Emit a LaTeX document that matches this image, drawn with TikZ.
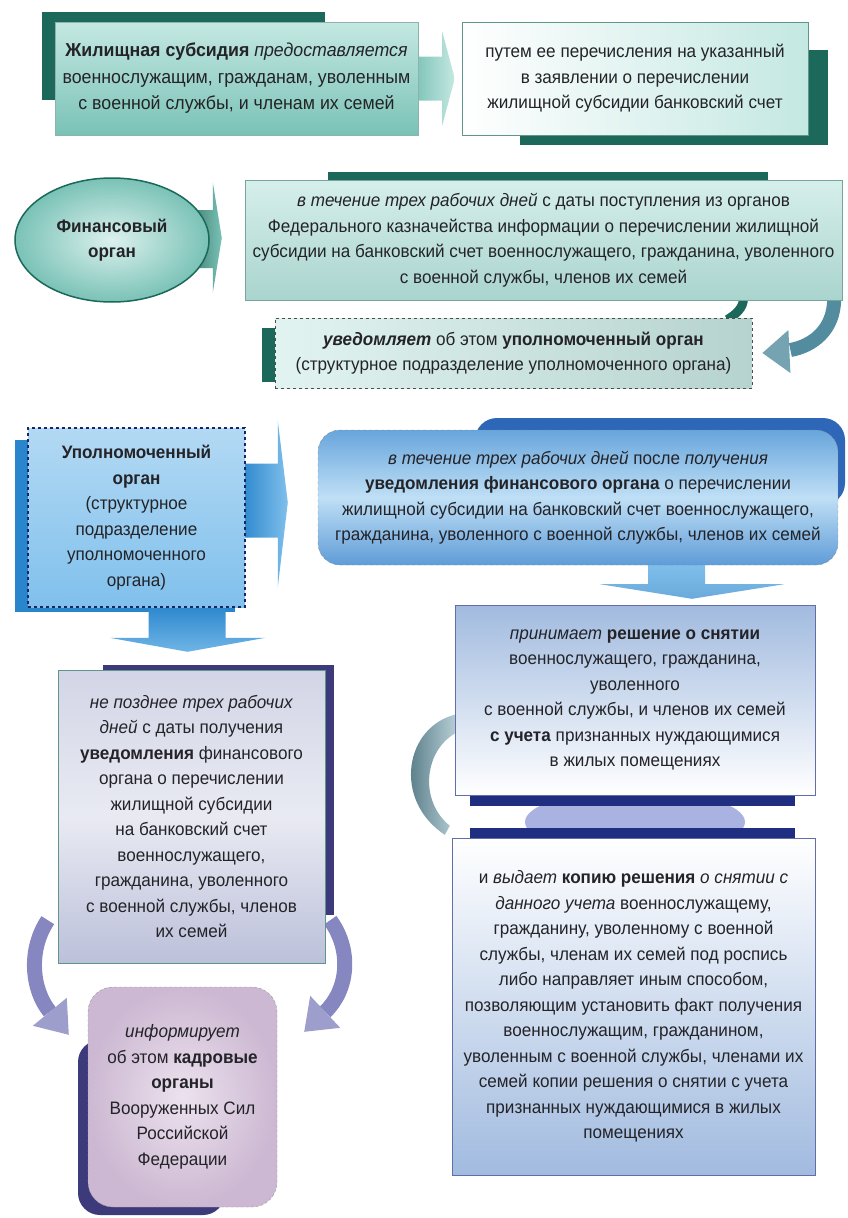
\documentclass[tikz,border=0pt]{standalone}
\usepackage{fontspec}
\setmainfont[FakeStretch=0.95]{Liberation Sans}
\usetikzlibrary{shapes.geometric,calc,backgrounds}
\definecolor{tealdark}{RGB}{28,104,90}
\definecolor{tealA}{RGB}{196,232,226}
\definecolor{tealB}{RGB}{122,194,182}
\definecolor{tealC}{RGB}{170,212,206}
\definecolor{curlcol}{RGB}{82,140,158}
\definecolor{navy}{RGB}{32,46,130}
\definecolor{navyB}{RGB}{60,58,122}
\definecolor{blueA}{RGB}{42,134,204}
\definecolor{blueB}{RGB}{128,192,236}
\definecolor{blueC}{RGB}{46,103,184}
\definecolor{peri}{RGB}{170,178,226}
\definecolor{purp}{RGB}{134,134,192}
\definecolor{lilacA}{RGB}{236,226,238}
\definecolor{lilacB}{RGB}{204,184,210}
\definecolor{txtgrey}{RGB}{35,35,40}
\tikzset{
  txt/.style={align=center,text=txtgrey,font=\fontsize{18}{25.5}\selectfont,inner sep=0pt},
  tealbox/.style={txt,font=\fontsize{18.7}{26.5}\selectfont,rectangle,draw=tealdark!50,top color=tealA,bottom color=tealB},
  whitebox/.style={txt,rectangle,draw=tealdark!70,left color=white,right color=tealA},
  finell/.style={txt,ellipse,draw=tealdark,line width=1.5pt,inner color=tealA!60!white,outer color=tealB},
  treasbox/.style={txt,rectangle,draw=tealdark!60,top color=tealA!70!white,bottom color=tealC},
  notifbox/.style={txt,rectangle,dashed,draw=black!70,thick,left color=tealA!50!white,right color=tealA!80!gray},
  authbox/.style={txt,rectangle,dashed,draw=navy!80!black,line width=1.5pt,top color=blueB!60!white,bottom color=blueB},
  afterbox/.style={txt,rectangle,rounded corners=22pt,dashed,draw=black!45,top color=blueB!70!blueC,bottom color=blueB!60!blueC,middle color=blueB!50!white},
  latebox/.style={txt,rectangle,draw=tealdark!70,top color=white!80!navy,bottom color=white!70!navy,middle color=white!90!navy},
  hrbox/.style={txt,rectangle,rounded corners=25pt,densely dashed,draw=black!40,inner color=lilacA,outer color=lilacB},
  decbox/.style={txt,rectangle,draw=navy!70,top color=blueC!45!white,bottom color=white},
  copybox/.style={txt,rectangle,draw=navy!70,top color=white,bottom color=blueC!45!white}
}
\begin{document}
\begin{tikzpicture}[x=1pt,y=-1pt]
\useasboundingbox (0,0) rectangle (848,1218);
\node[tealbox,minimum width=363pt,minimum height=113pt] (sub) at (236.5,78.5)
  {\textbf{Жилищная субсидия} \textit{предоставляется}\\военнослужащим, гражданам, уволенным\\с военной службы, и членам их семей};
\node[whitebox,minimum width=346pt,minimum height=113pt] (acct) at (635,78.5)
  {путем ее перечисления на указанный\\в заявлении о перечислении\\жилищной субсидии банковский счет};
\node[finell,minimum width=194pt,minimum height=124pt] (fin) at (112,240)
  {\textbf{Финансовый}\\\textbf{орган}};
\node[treasbox,minimum width=597pt,minimum height=120pt] (treas) at (543.5,240)
  {\textit{в течение трех рабочих дней} с даты поступления из органов\\Федерального казначейства информации о перечислении жилищной\\субсидии на банковский счет военнослужащего, гражданина, уволенного\\с военной службы, членов их семей};
\node[notifbox,minimum width=477pt,minimum height=70pt] (notif) at (513.5,353)
  {\textbf{\textit{уведомляет}} об этом \textbf{уполномоченный орган}\\(структурное подразделение уполномоченного органа)};
\node[authbox,minimum width=217pt,minimum height=179pt] (auth) at (136.5,517.5)
  {\textbf{Уполномоченный}\\\textbf{орган}\\(структурное\\подразделение\\уполномоченного\\органа)};
\node[afterbox,minimum width=520pt,minimum height=135pt] (after) at (578,497.5)
  {\textit{в течение трех рабочих дней} после \textit{получения}\\\textbf{уведомления финансового органа} о перечислении\\жилищной субсидии на банковский счет военнослужащего,\\гражданина, уволенного с военной службы, членов их семей};
\node[latebox,minimum width=267pt,minimum height=293pt] (late) at (191.5,816.5)
  {\textit{не позднее трех рабочих}\\\textit{дней} с даты получения\\\textbf{уведомления} финансового\\органа о перечислении\\жилищной субсидии\\на банковский счет\\военнослужащего,\\гражданина, уволенного\\с военной службы, членов\\их семей};
\node[hrbox,minimum width=189pt,minimum height=220pt] (hr) at (182.5,1097)
  {\textit{информирует}\\об этом \textbf{кадровые}\\\textbf{органы}\\Вооруженных Сил\\Российской\\Федерации};
\node[decbox,minimum width=360pt,minimum height=190pt] (dec) at (635,700)
  {\textit{принимает} \textbf{решение о снятии}\\военнослужащего, гражданина,\\уволенного\\с военной службы, и членов их семей\\\textbf{с учета} признанных нуждающимися\\в жилых помещениях};
\node[copybox,minimum width=363pt,minimum height=337pt] (copy) at (633.5,1006.5)
  {и \textit{выдает} \textbf{копию решения} \textit{о снятии с}\\\textit{данного учета} военнослужащему,\\гражданину, уволенному с военной\\службы, членам их семей под роспись\\либо направляет иным способом,\\позволяющим установить факт получения\\военнослужащим, гражданином,\\уволенным с военной службы, членами их\\семей копии решения о снятии с учета\\признанных нуждающимися в жилых\\помещениях};
\begin{scope}[on background layer]
\fill[tealdark] (42,12) rectangle (325,100);
\fill[tealdark] (520,50) rectangle (828,145);
\fill[tealdark] (328,172) rectangle (768,182);
\fill[tealdark] (262,328) rectangle (278,382);
\fill[blueA] (15,440) rectangle (235,612);
\fill[blueC,rounded corners=22pt] (475,418) rectangle (845,505);
\fill[navyB] (103,665) rectangle (334,915);
\fill[navyB,rounded corners=22pt] (78,1040) rectangle (225,1215);
\fill[peri] (635,822) ellipse (110 and 32);
\fill[navy] (470,795) rectangle (795,806);
\fill[navy] (470,828) rectangle (795,840);
\shade[left color=tealB,right color=tealA]
  ($(sub.east)+(-5,-22)$) -- ($(sub.east)+(24,-22)$) -- ($(sub.east)+(24,-47)$) -- ($(acct.west)+(-7,0)$)
  -- ($(sub.east)+(24,47)$) -- ($(sub.east)+(24,22)$) -- ($(sub.east)+(-5,22)$) -- cycle;
\shade[left color=tealdark!80,right color=tealB]
  ($(fin.east)+(-15,-30)$) -- ($(fin.east)+(3,-30)$) -- ($(fin.east)+(3,-58)$) -- ($(treas.west)+(-23,-2)$)
  -- ($(fin.east)+(3,53)$) -- ($(fin.east)+(3,28)$) -- ($(fin.east)+(-15,28)$) -- cycle;
\draw[tealdark,line width=9pt] ($(treas.south)+(200,-2)$) .. controls +(0,10) and +(8,-5) .. ($(notif.north east)+(-25,2)$);
\draw[curlcol,line width=14pt] ($(treas.south east)+(-8,-2)$) .. controls +(0,32) and +(22,-4) .. ($(notif.east)+(38,-3)$);
\fill[curlcol!80!white] ($(notif.east)+(36,-23)$) -- ($(notif.east)+(10,0)$) -- ($(notif.east)+(38,20)$) -- cycle;
\shade[left color=blueA,right color=blueB]
  ($(auth.east)+(-5,-54)$) -- ($(auth.east)+(32,-54)$) -- ($(auth.east)+(32,-97)$) -- ($(after.west)+(-30,5)$)
  -- ($(auth.east)+(32,70)$) -- ($(auth.east)+(32,20)$) -- ($(auth.east)+(-5,20)$) -- cycle;
\shade[top color=blueB,bottom color=blueA!70!white]
  ($(after.south)+(70,-3)$) -- ($(after.south)+(127,-3)$) -- ($(after.south)+(127,19)$) -- ($(after.south)+(206,19)$)
  -- ($(dec.north)+(57,-6)$) -- ($(after.south)+(22,19)$) -- ($(after.south)+(70,19)$) -- cycle;
\shade[top color=blueA,bottom color=blueB!80!blueA]
  ($(auth.south)+(12,-3)$) -- ($(auth.south)+(89,-3)$) -- ($(auth.south)+(89,30)$) -- ($(auth.south)+(129,30)$)
  -- ($(late.north)+(-4,-18)$) -- ($(auth.south)+(-27,30)$) -- ($(auth.south)+(12,30)$) -- cycle;
\shade[left color=curlcol!70!black,right color=curlcol!40!white]
  ($(dec.west)+(3,14)$) .. controls +(-53,11) and +(-53,-35) .. ($(copy.north west)+(-7,-3)$)
  -- ($(copy.north west)+(-2,-12)$) .. controls +(-32,-26) and +(-33,16) .. ($(dec.west)+(3,32)$) -- cycle;
\draw[purp,line width=15pt] ($(late.south west)+(-10,-43)$) .. controls +(-20,30) and +(-18,-22) .. ($(hr.north west)+(-38,25)$);
\fill[purp!80!white] ($(hr.north west)+(-21,11)$) -- ($(hr.north west)+(-19,48)$) -- ($(hr.north west)+(-55,39)$) -- cycle;
\draw[purp,line width=15pt] ($(late.south east)+(5,-43)$) .. controls +(22,30) and +(23,-22) .. ($(hr.north east)+(48,25)$);
\fill[purp!80!white] ($(hr.north east)+(33,9)$) -- ($(hr.north east)+(27,45)$) -- ($(hr.north east)+(63,41)$) -- cycle;
\end{scope}
\end{tikzpicture}
\end{document}
